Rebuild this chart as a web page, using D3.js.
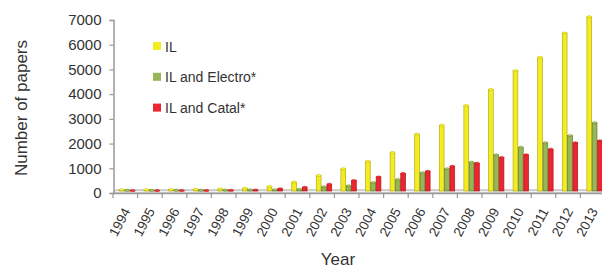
<!DOCTYPE html>
<html lang="en">
<head>
<meta charset="UTF-8">
<title>IL papers per year</title>
<script src="https://cdnjs.cloudflare.com/ajax/libs/d3/7.8.5/d3.min.js"></script>
<style>
    body { margin: 0; background: #fff; }
    svg { display: block; }
    text { font-family: "Liberation Sans", Arial, sans-serif; fill: #333; }
</style>
</head>
<body>
<div id="chart"></div>
<script>
// data
const years = ["1994","1995","1996","1997","1998","1999","2000","2001","2002","2003",
               "2004","2005","2006","2007","2008","2009","2010","2011","2012","2013"];
const seriesNames = ["IL", "IL and Electro*", "IL and Catal*"];
const ilValues      = [50, 55, 60, 70, 80, 110, 180, 360, 630, 900, 1200, 1560, 2300, 2660, 3460, 4110, 4870, 5410, 6390, 7050];
const electroValues = [30, 30, 35, 35, 40, 50, 50, 70, 170, 210, 340, 465, 740, 900, 1165, 1465, 1770, 1950, 2240, 2760];
const catalValues   = [20, 20, 25, 25, 30, 40, 90, 150, 275, 425, 570, 710, 800, 1000, 1125, 1360, 1465, 1690, 1950, 2030];
const yTicks = [0, 1000, 2000, 3000, 4000, 5000, 6000, 7000];

const fills   = ["#f4ec22", "#98b655", "#ec2630"];
const strokes = ["#b5ac10", "#5e7a2c", "#b3161c"];

const W = 602, H = 270;
const svg = d3.select("#chart").append("svg").attr("width", W).attr("height", H);

const x = d3.scaleBand().domain(years).range([113, 605]);
const xs = d3.scaleBand().domain(d3.range(3)).range([6.5, 22.5]).paddingInner(0);
const y = d3.scaleLinear().domain([0, 7000]).range([193, 20]);

// floor
svg.append("polygon")
    .attr("points", [[113, 193], [605, 193], [608, 190], [116, 190]].join(" "))
    .attr("fill", "#f2f2f2").attr("stroke", "#a6a6a6").attr("stroke-width", 1);

// y axis
const yAxis = d3.axisLeft(y).tickValues(yTicks).tickFormat(d3.format("d")).tickSize(4).tickPadding(8);
const gy = svg.append("g").attr("transform", "translate(113.5,0)").call(yAxis);
gy.select(".domain").attr("stroke", "#999").attr("stroke-width", 1.5);
gy.selectAll(".tick line").attr("stroke", "#999").attr("stroke-width", 1.2);
gy.selectAll(".tick text").attr("font-size", 15).style("fill", "#333")
    .attr("font-family", "Liberation Sans, Arial, sans-serif");

// bars
const series = [ilValues, electroValues, catalValues];
series.forEach(function (vals, s) {
    const g = svg.append("g");
    const bars = g.selectAll("g.bar").data(years.map((yr, i) => ({ yr: yr, v: vals[i] })))
        .enter().append("g").attr("class", "bar");
    bars.append("rect")
        .attr("x", d => x(d.yr) + xs(s))
        .attr("y", d => y(d.v) - 2)
        .attr("width", xs.bandwidth() - 0.6)
        .attr("height", d => Math.max(0.5, y(0) - y(d.v)))
        .attr("fill", fills[s])
        .attr("stroke", strokes[s])
        .attr("stroke-width", 0.7);
    bars.append("ellipse")
        .attr("cx", d => x(d.yr) + xs(s) + (xs.bandwidth() - 0.6) / 2)
        .attr("cy", d => y(d.v) - 2)
        .attr("rx", (xs.bandwidth() - 0.6) / 2)
        .attr("ry", 1)
        .attr("fill", d3.color(fills[s]).brighter(0.4))
        .attr("stroke", strokes[s])
        .attr("stroke-width", 0.5);
});

// x axis
svg.append("line").attr("x1", 113).attr("x2", 605).attr("y1", 193.5).attr("y2", 193.5)
    .attr("stroke", "#999").attr("stroke-width", 1.5);
svg.selectAll("line.xt").data(years).enter().append("line")
    .attr("class", "xt")
    .attr("x1", d => x(d)).attr("x2", d => x(d))
    .attr("y1", 193).attr("y2", 198)
    .attr("stroke", "#999").attr("stroke-width", 1.2);
svg.selectAll("text.xl").data(years).enter().append("text")
    .attr("class", "xl")
    .attr("text-anchor", "end")
    .attr("font-size", 13.5)
    .attr("transform", d => `translate(${x(d) + x.bandwidth() / 2 + 5.5},211) rotate(-62)`)
    .text(d => d);

// axis titles
svg.append("text")
    .attr("transform", "translate(27,108) rotate(-90)")
    .attr("text-anchor", "middle")
    .attr("font-size", 17)
    .text("Number of papers");
svg.append("text")
    .attr("x", 338).attr("y", 265)
    .attr("text-anchor", "middle")
    .attr("font-size", 17)
    .text("Year");

// legend
const legend = svg.append("g");
seriesNames.forEach(function (name, i) {
    const ly = 46 + i * 30.8;
    legend.append("rect").attr("x", 153).attr("y", ly - 4).attr("width", 8).attr("height", 8)
        .attr("fill", fills[i]);
    legend.append("text").attr("x", 165).attr("y", ly + 5.5)
        .attr("font-size", 14)
        .text(name);
});
</script>
</body>
</html>
